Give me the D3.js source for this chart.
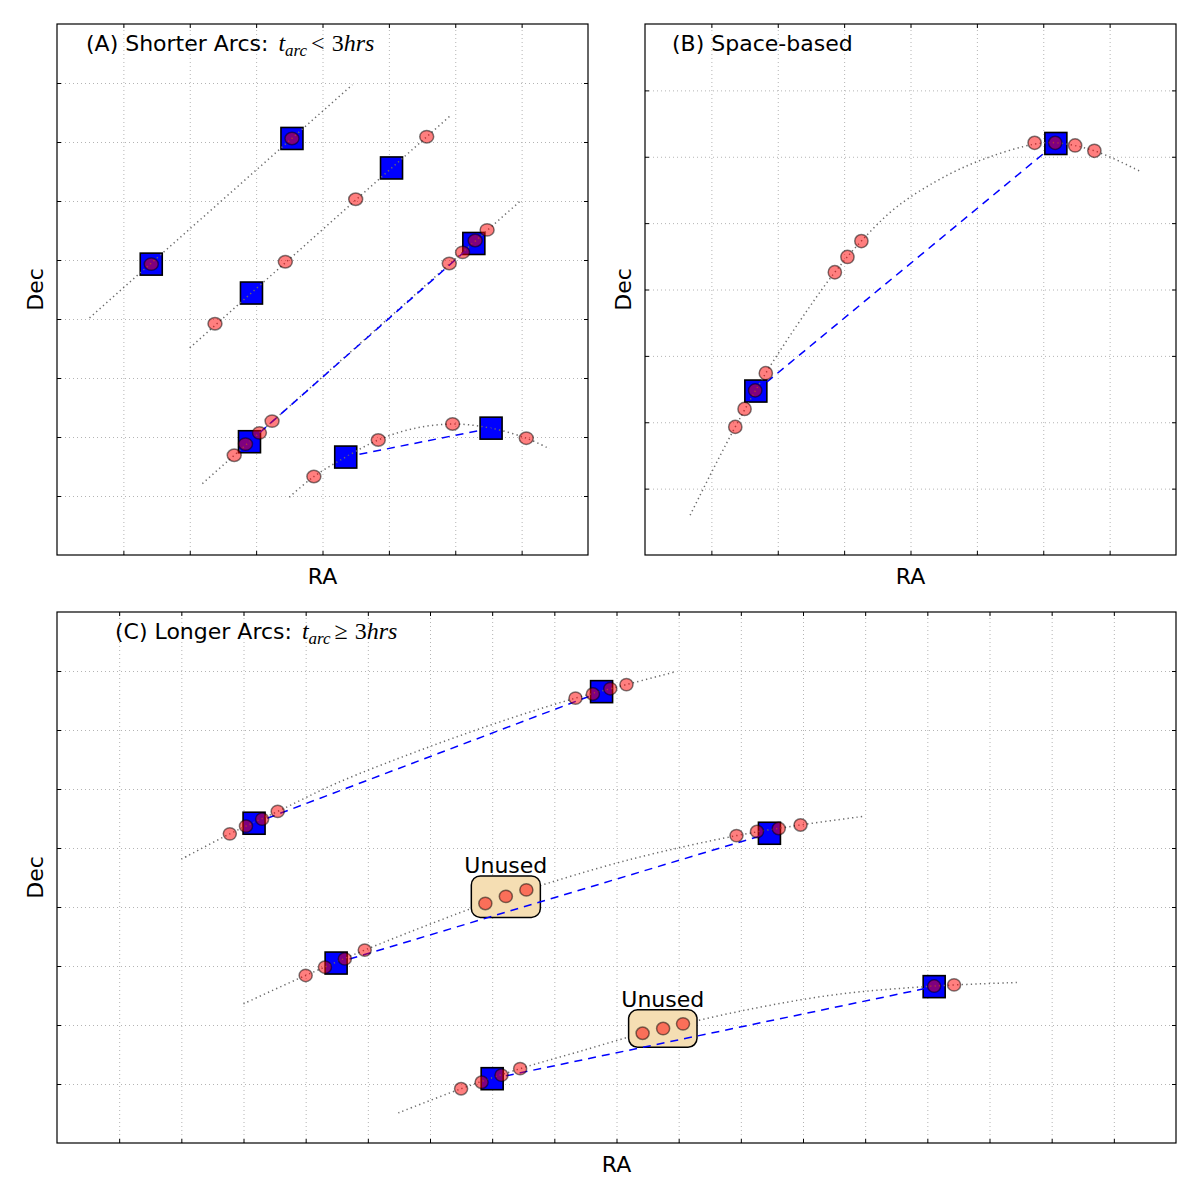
<!DOCTYPE html>
<html>
<head>
<meta charset="utf-8">
<script src="https://cdn.jsdelivr.net/npm/d3@7"></script>
<style>
  body { margin: 0; background: #fff; }
  svg { font-family: "DejaVu Sans", sans-serif; }
  .grid line { stroke: #b4b4b4; stroke-width: 1; stroke-dasharray: 1,3; }
  .grid path, .ticks path { display: none; }
  .ticks line { stroke: #000; stroke-width: 1; }
</style>
</head>
<body>
<div id="chart-area"></div>
<script>

/* ---- Data: panel A (shorter arcs) ---- */
var orbitsA = [
  [[0.49,4.02],[4.45,7.97]],
  [[2.00,3.51],[5.94,7.46]],
  [[2.19,1.21],[6.97,5.99]],
  [[3.50,0.98],[3.87,1.33],[4.35,1.66],[4.84,1.95],[5.36,2.14],[5.96,2.22],[6.54,2.15],[7.07,1.98],[7.42,1.80]]
];
var tracksA = [[1.42,4.93],[3.54,7.06],[2.93,4.44],[5.04,6.56],[2.90,1.92],[6.28,5.28],[4.35,1.66],[6.54,2.15]];
var linksA = [[[2.90,1.92],[6.28,5.28]], [[4.35,1.66],[6.54,2.15]]];
var obsA = [[1.42,4.93],[3.54,7.06],
  [2.38,3.92],[3.44,4.97],[4.50,6.03],[5.57,7.09],
  [2.67,1.69],[2.84,1.88],[3.05,2.07],[3.24,2.27],[5.91,4.94],[6.11,5.13],[6.30,5.33],[6.48,5.51],
  [3.87,1.33],[4.84,1.95],[5.96,2.22],[7.07,1.98]];

/* ---- Data: panel B (space-based) ---- */
var orbitsB = [
  [[0.68,0.60],[1.00,1.24],[1.36,1.93],[1.82,2.74],[2.46,3.71],[2.86,4.26],[3.26,4.73],[3.80,5.25],
   [4.57,5.73],[5.20,6.00],[5.87,6.19],[6.20,6.21],[6.77,6.09],[7.46,5.78]]
];
var tracksB = [[1.67,2.47],[6.19,6.20]];
var linksB = [[[1.67,2.47],[6.19,6.20]]];
var obsB = [[1.36,1.93],[1.50,2.20],[1.66,2.48],[1.82,2.74],[2.86,4.26],[3.05,4.49],[3.26,4.73],
  [5.87,6.21],[6.18,6.21],[6.48,6.17],[6.77,6.09]];

/* ---- Data: panel C (longer arcs) ---- */
var orbitsC = [
  [[2.00,4.81],[2.78,5.24],[3.55,5.62],[4.50,6.10],[5.95,6.70],[7.30,7.20],[8.34,7.54],[9.16,7.77],[9.96,7.99]],
  [[3.00,2.36],[4.00,2.84],[4.95,3.27],[6.05,3.73],[6.89,4.06],[7.55,4.29],[9.20,4.80],[10.93,5.21],[11.96,5.39],[13.00,5.54]],
  [[5.49,0.51],[6.50,0.92],[7.45,1.26],[8.40,1.55],[9.42,1.86],[10.07,2.02],[11.30,2.30],[12.56,2.52],[14.11,2.66],[15.44,2.72]]
];
var tracksC = [[3.17,5.42],[8.76,7.65],[4.49,3.05],[11.46,5.25],[7.00,1.09],[14.11,2.65]];
var linksC = [[[3.17,5.42],[8.76,7.65]], [[4.49,3.05],[11.46,5.25]], [[7.00,1.09],[14.11,2.65]]];
var obsC = [[2.78,5.24],[3.04,5.37],[3.30,5.49],[3.55,5.62],[8.34,7.54],[8.62,7.61],[8.90,7.70],[9.16,7.77],
  [4.00,2.84],[4.31,2.98],[4.63,3.12],[4.95,3.27],[10.93,5.21],[11.26,5.28],[11.61,5.33],[11.96,5.39],
  [6.50,0.92],[6.83,1.03],[7.15,1.15],[7.45,1.26],[14.11,2.66],[14.43,2.68]];
var unusedC = [
  [[6.89,4.06],[7.22,4.18],[7.55,4.29]],
  [[9.42,1.86],[9.75,1.94],[10.07,2.02]]
];

/* ---- Ticks ---- */
var xTicks8 = [1,2,3,4,5,6,7];
var yTicks9 = [1,2,3,4,5,6,7,8];
var xTicks18 = [1,2,3,4,5,6,7,8,9,10,11,12,13,14,15,16,17];

var svg = d3.select("#chart-area").append("svg")
  .attr("width", 1200)
  .attr("height", 1200);

var panels = [
  { left:57, top:24, width:531, height:531, xDomain:[0,8], yDomain:[0,9], xTicks:xTicks8, yTicks:yTicks9, r:0.105,
    orbits:orbitsA, tracks:tracksA, links:linksA, obs:obsA, unused:[],
    title:{x:29, label:"(A) Shorter Arcs: ", math:["<"," 3","hrs"]} },
  { left:645, top:24, width:531, height:531, xDomain:[0,8], yDomain:[0,8], xTicks:xTicks8, yTicks:xTicks8, r:0.1,
    orbits:orbitsB, tracks:tracksB, links:linksB, obs:obsB, unused:[],
    title:{x:27, label:"(B) Space-based", math:null} },
  { left:57, top:612, width:1119, height:531, xDomain:[0,18], yDomain:[0,9], xTicks:xTicks18, yTicks:yTicks9, r:0.105,
    orbits:orbitsC, tracks:tracksC, links:linksC, obs:obsC, unused:unusedC,
    title:{x:58, label:"(C) Longer Arcs: ", math:["\u2265"," 3","hrs"]} }
];

panels.forEach(drawPanel);

function drawPanel(p) {
  var g = svg.append("g").attr("transform", "translate(" + p.left + "," + p.top + ")");

  var x = d3.scaleLinear().domain(p.xDomain).range([0, p.width]);
  var y = d3.scaleLinear().domain(p.yDomain).range([p.height, 0]);

  // grid
  g.append("g").attr("class", "grid")
    .attr("transform", "translate(0," + p.height + ")")
    .call(d3.axisBottom(x).tickValues(p.xTicks).tickSize(-p.height).tickFormat(""));
  g.append("g").attr("class", "grid")
    .call(d3.axisLeft(y).tickValues(p.yTicks).tickSize(-p.width).tickFormat(""));

  // squares (detections used for linking)
  g.selectAll("rect.trk").data(p.tracks).enter().append("rect")
    .attr("class", "trk")
    .attr("x", d => x(d[0]) - 11)
    .attr("y", d => y(d[1]) - 11)
    .attr("width", 22).attr("height", 22)
    .attr("fill", "blue")
    .attr("stroke", "#000").attr("stroke-width", 1.6);

  // orbit (dotted)
  var line = d3.line().x(d => x(d[0])).y(d => y(d[1])).curve(d3.curveCatmullRom.alpha(0.5));
  g.selectAll("path.orbit").data(p.orbits).enter().append("path")
    .attr("class", "orbit")
    .attr("d", line)
    .attr("fill", "none")
    .attr("stroke", "#6a6a6a")
    .attr("stroke-width", 1.5)
    .attr("stroke-dasharray", "1.3,3.2");

  // unused boxes
  p.unused.forEach(function(grp) {
    var x0 = x(d3.min(grp, d => d[0])) - 14, x1 = x(d3.max(grp, d => d[0])) + 14;
    var y0 = y(d3.max(grp, d => d[1])) - 14, y1 = y(d3.min(grp, d => d[1])) + 14;
    g.append("rect")
      .attr("x", x0).attr("y", y0)
      .attr("width", x1 - x0).attr("height", y1 - y0)
      .attr("rx", 9).attr("ry", 9)
      .attr("fill", "#f5deb3")
      .attr("stroke", "#000").attr("stroke-width", 1.5);
    g.append("text")
      .attr("x", (x0 + x1) / 2)
      .attr("y", y0 - 3)
      .attr("text-anchor", "middle")
      .attr("font-size", "22px")
      .text("Unused");
  });

  // links (dashed)
  g.selectAll("line.link").data(p.links).enter().append("line")
    .attr("class", "link")
    .attr("x1", d => x(d[0][0])).attr("y1", d => y(d[0][1]))
    .attr("x2", d => x(d[1][0])).attr("y2", d => y(d[1][1]))
    .attr("stroke", "blue")
    .attr("stroke-width", 1.5)
    .attr("stroke-dasharray", "8,6");

  // observations (circles, in data units)
  var rx = x(p.r) - x(0), ry = y(0) - y(p.r);
  var allObs = p.obs.concat(d3.merge(p.unused));
  g.selectAll("ellipse.obs").data(allObs).enter().append("ellipse")
    .attr("class", "obs")
    .attr("cx", d => x(d[0])).attr("cy", d => y(d[1]))
    .attr("rx", rx).attr("ry", ry)
    .attr("fill", "red").attr("fill-opacity", 0.5)
    .attr("stroke", "#000").attr("stroke-opacity", 0.5).attr("stroke-width", 1.5);

  // inward ticks on all four sides
  g.append("g").attr("class", "ticks").attr("transform", "translate(0," + p.height + ")")
    .call(d3.axisBottom(x).tickValues(p.xTicks).tickSize(-4).tickFormat(""));
  g.append("g").attr("class", "ticks")
    .call(d3.axisTop(x).tickValues(p.xTicks).tickSize(-4).tickFormat(""));
  g.append("g").attr("class", "ticks")
    .call(d3.axisLeft(y).tickValues(p.yTicks).tickSize(-4).tickFormat(""));
  g.append("g").attr("class", "ticks").attr("transform", "translate(" + p.width + ",0)")
    .call(d3.axisRight(y).tickValues(p.yTicks).tickSize(-4).tickFormat(""));

  // frame
  g.append("rect")
    .attr("width", p.width).attr("height", p.height)
    .attr("fill", "none").attr("stroke", "#000").attr("stroke-width", 1.2);

  // title
  var t = g.append("text")
    .attr("x", p.title.x).attr("y", 27)
    .attr("font-size", "22px")
    .attr("xml:space", "preserve");
  t.append("tspan").text(p.title.label);
  if (p.title.math) {
    var serif = "'Liberation Serif', 'DejaVu Serif', serif";
    t.append("tspan").attr("font-family", serif).attr("font-style", "italic")
      .attr("font-size", "24px").attr("dx", 3).text("t");
    t.append("tspan").attr("font-family", serif).attr("font-style", "italic")
      .attr("font-size", "17px").attr("dy", 5).text("arc");
    t.append("tspan").attr("font-family", serif).attr("font-size", "24px")
      .attr("dy", -5).attr("dx", 4).text(p.title.math[0]);
    t.append("tspan").attr("font-family", serif).attr("font-size", "24px")
      .attr("dx", 1).text(p.title.math[1]);
    t.append("tspan").attr("font-family", serif).attr("font-style", "italic")
      .attr("font-size", "24px").text(p.title.math[2]);
  }

  // axis labels
  g.append("text")
    .attr("x", p.width / 2).attr("y", p.height + 29)
    .attr("text-anchor", "middle")
    .attr("font-size", "22px")
    .text("RA");
  g.append("text")
    .attr("transform", "rotate(-90)")
    .attr("x", -p.height / 2).attr("y", -14)
    .attr("text-anchor", "middle")
    .attr("font-size", "22px")
    .text("Dec");
}

</script>
</body>
</html>
